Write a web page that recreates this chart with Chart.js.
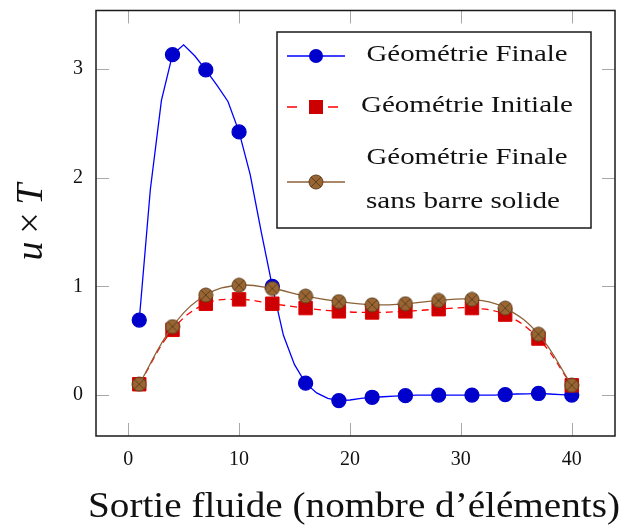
<!DOCTYPE html>
<html>
<head>
<meta charset="utf-8">
<script src="https://cdn.jsdelivr.net/npm/chart.js@4/dist/chart.umd.min.js"></script>
<style>
  body { margin: 0; background: #fff; }
  canvas { display: block; }
</style>
</head>
<body>
<canvas id="c" width="626" height="526"></canvas>
<script>
// Géométrie Finale: one value per element, marker every 3rd
const finaleX = [1,2,3,4,5,6,7,8,9,10,11,12,13,14,15,16,17,18,19,20,
                 21,22,23,24,25,26,27,28,29,30,31,32,33,34,35,36,37,38,39,40];
const finale = [0.69,1.89,2.71,3.13,3.22,3.12,2.99,2.85,2.70,2.42,
                2.03,1.50,1.00,0.55,0.28,0.11,0.02,-0.03,-0.05,-0.045,
                -0.03,-0.02,-0.015,-0.01,-0.005,0.0,0.0,0.0,0.0,0.0,
                0.0,0.0,0.0,0.005,0.01,0.012,0.015,0.01,0.005,0.0];

// other two series, only at marker positions
const markX = [1,4,7,10,13,16,19,22,25,28,31,34,37,40];
const initiale = [0.10,0.60,0.84,0.88,0.84,0.80,0.77,0.76,0.77,0.79,0.80,0.74,0.52,0.09];
const sansBarre = [0.10,0.63,0.92,1.01,0.98,0.91,0.86,0.83,0.84,0.87,0.88,0.80,0.56,0.09];

const xTicks = [0, 10, 20, 30, 40];
const yTicks = [0, 1, 2, 3];
const xTitle = 'Sortie fluide (nombre d\u2019éléments)';
const legendRows = [['Géométrie Finale'], ['Géométrie Initiale'], ['Géométrie Finale', 'sans barre solide']];

const SERIF = '"Liberation Serif", "Times New Roman", serif';

// otimes marker
function otimes(r, fill, stroke) {
  const s = Math.ceil(r * 2 + 2);
  const m = document.createElement('canvas');
  m.width = s; m.height = s;
  const g = m.getContext('2d');
  const c = s / 2;
  g.beginPath();
  g.arc(c, c, r, 0, Math.PI * 2);
  g.fillStyle = fill;
  g.fill();
  g.lineWidth = 1;
  g.strokeStyle = stroke;
  g.stroke();
  const d = r * Math.SQRT1_2;
  g.beginPath();
  g.moveTo(c - d, c - d); g.lineTo(c + d, c + d);
  g.moveTo(c - d, c + d); g.lineTo(c + d, c - d);
  g.stroke();
  return m;
}
const brownMark = otimes(7, '#996633', '#5e3f1f');

function pts(xs, ys) {
  return xs.map((x, i) => ({ x, y: ys[i] }));
}

// draw text stretched horizontally to a given width
function fitText(ctx, text, cx, baseline, width) {
  const w = ctx.measureText(text).width;
  ctx.save();
  ctx.translate(cx, baseline);
  ctx.scale(width / w, 1);
  ctx.textAlign = 'center';
  ctx.textBaseline = 'alphabetic';
  ctx.fillText(text, 0, 0);
  ctx.restore();
}

const decor = {
  id: 'decor',
  beforeDatasetsDraw(chart) {
    const { ctx, chartArea: a, scales: { x, y } } = chart;
    ctx.save();
    ctx.strokeStyle = '#a8a8a8';
    ctx.lineWidth = 1;
    ctx.beginPath();
    xTicks.forEach(v => {
      const px = Math.round(x.getPixelForValue(v)) + 0.5;
      ctx.moveTo(px, a.bottom); ctx.lineTo(px, a.bottom - 13);
      ctx.moveTo(px, a.top); ctx.lineTo(px, a.top + 13);
    });
    yTicks.forEach(v => {
      const py = Math.round(y.getPixelForValue(v)) + 0.5;
      ctx.moveTo(a.left, py); ctx.lineTo(a.left + 13, py);
      ctx.moveTo(a.right, py); ctx.lineTo(a.right - 13, py);
    });
    ctx.stroke();
    ctx.restore();
  },
  afterDraw(chart) {
    const { ctx, chartArea: a } = chart;
    ctx.save();
    // frame
    ctx.strokeStyle = '#1a1a1a';
    ctx.lineWidth = 1.5;
    ctx.strokeRect(a.left, a.top, a.right - a.left, a.bottom - a.top);

    // legend box
    ctx.fillStyle = '#fff';
    ctx.fillRect(277, 32, 314, 196);
    ctx.strokeRect(277, 32, 314, 196);

    const ds = chart.data.datasets;
    const rowsY = [56, 107, 182];
    rowsY.forEach((ry, i) => {
      const d = ds[i];
      ctx.save();
      ctx.strokeStyle = d.borderColor;
      ctx.lineWidth = d.borderWidth;
      ctx.beginPath();
      if (d.borderDash) {
        ctx.moveTo(287, ry); ctx.lineTo(297, ry);
        ctx.moveTo(328, ry); ctx.lineTo(338, ry);
      } else {
        ctx.moveTo(287, ry); ctx.lineTo(345, ry);
      }
      ctx.stroke();
      ctx.restore();
      if (i === 0) {
        ctx.beginPath();
        ctx.arc(316, ry, 7, 0, Math.PI * 2);
        ctx.fillStyle = '#0000cc';
        ctx.fill();
      } else if (i === 1) {
        ctx.fillStyle = '#cc0000';
        ctx.fillRect(309, ry - 7, 14, 14);
      } else {
        ctx.drawImage(brownMark, 316 - brownMark.width / 2, ry - brownMark.height / 2);
      }
    });

    ctx.fillStyle = '#111';
    ctx.font = '23px ' + SERIF;
    fitText(ctx, legendRows[0][0], 467, 61, 201);
    fitText(ctx, legendRows[1][0], 467, 112, 212);
    fitText(ctx, legendRows[2][0], 467, 164, 201);
    fitText(ctx, legendRows[2][1], 463, 208, 194);

    // x title
    ctx.font = '35px ' + SERIF;
    fitText(ctx, xTitle, 354, 517, 532);

    // y title: u × T
    ctx.translate(42, 222);
    ctx.rotate(-Math.PI / 2);
    const parts = [['u', 'italic 38px '], ['\u2009×\u2009', '38px '], ['T', 'italic 38px ']];
    let total = 0;
    parts.forEach(p => { ctx.font = p[1] + SERIF; p.push(ctx.measureText(p[0]).width); total += p[2]; });
    let xx = -total / 2;
    ctx.textAlign = 'left';
    parts.forEach(p => { ctx.font = p[1] + SERIF; ctx.fillText(p[0], xx, 0); xx += p[2]; });
    ctx.restore();
  }
};

new Chart(document.getElementById('c'), {
  type: 'line',
  data: {
    datasets: [
      {
        label: legendRows[0][0],
        data: pts(finaleX, finale),
        borderColor: '#0000ff',
        borderWidth: 1.3,
        backgroundColor: '#0000cc',
        pointBorderColor: '#0000cc',
        pointRadius: c => (c.dataIndex % 3 === 0 ? 7 : 0),
        pointHoverRadius: c => (c.dataIndex % 3 === 0 ? 7 : 0),
        tension: 0,
        order: 2
      },
      {
        label: legendRows[1][0],
        data: pts(markX, initiale),
        borderColor: '#ff0000',
        borderWidth: 1.3,
        borderDash: [7, 5],
        backgroundColor: '#cc0000',
        pointBorderColor: '#e00000',
        pointBorderWidth: 1,
        pointStyle: 'rect',
        pointRadius: 9.5,
        pointHoverRadius: 9.5,
        tension: 0.4,
        order: 1
      },
      {
        label: legendRows[2].join(' '),
        data: pts(markX, sansBarre),
        borderColor: '#8c6239',
        borderWidth: 1.3,
        backgroundColor: '#996633',
        pointStyle: brownMark,
        pointRadius: 7,
        tension: 0.4,
        order: 0
      }
    ]
  },
  options: {
    responsive: false,
    animation: false,
    devicePixelRatio: 1,
    layout: { padding: { top: 10, right: 11, left: 0, bottom: 0 } },
    plugins: { legend: { display: false }, tooltip: { enabled: false } },
    scales: {
      x: {
        type: 'linear',
        min: -2.9,
        max: 43.9,
        grid: { display: false, drawTicks: false },
        border: { display: false },
        ticks: {
          stepSize: 10,
          includeBounds: false,
          padding: 12,
          color: '#111',
          font: { family: SERIF, size: 20 }
        },
        afterFit: s => { s.height = 90; s.paddingLeft = 0; s.paddingRight = 0; }
      },
      y: {
        min: -0.376,
        max: 3.536,
        grid: { display: false, drawTicks: false },
        border: { display: false },
        ticks: {
          stepSize: 1,
          includeBounds: false,
          padding: 13,
          color: '#111',
          font: { family: SERIF, size: 20 }
        },
        afterFit: s => { s.width = 96; s.paddingTop = 0; s.paddingBottom = 0; }
      }
    }
  },
  plugins: [decor]
});
</script>
</body>
</html>
